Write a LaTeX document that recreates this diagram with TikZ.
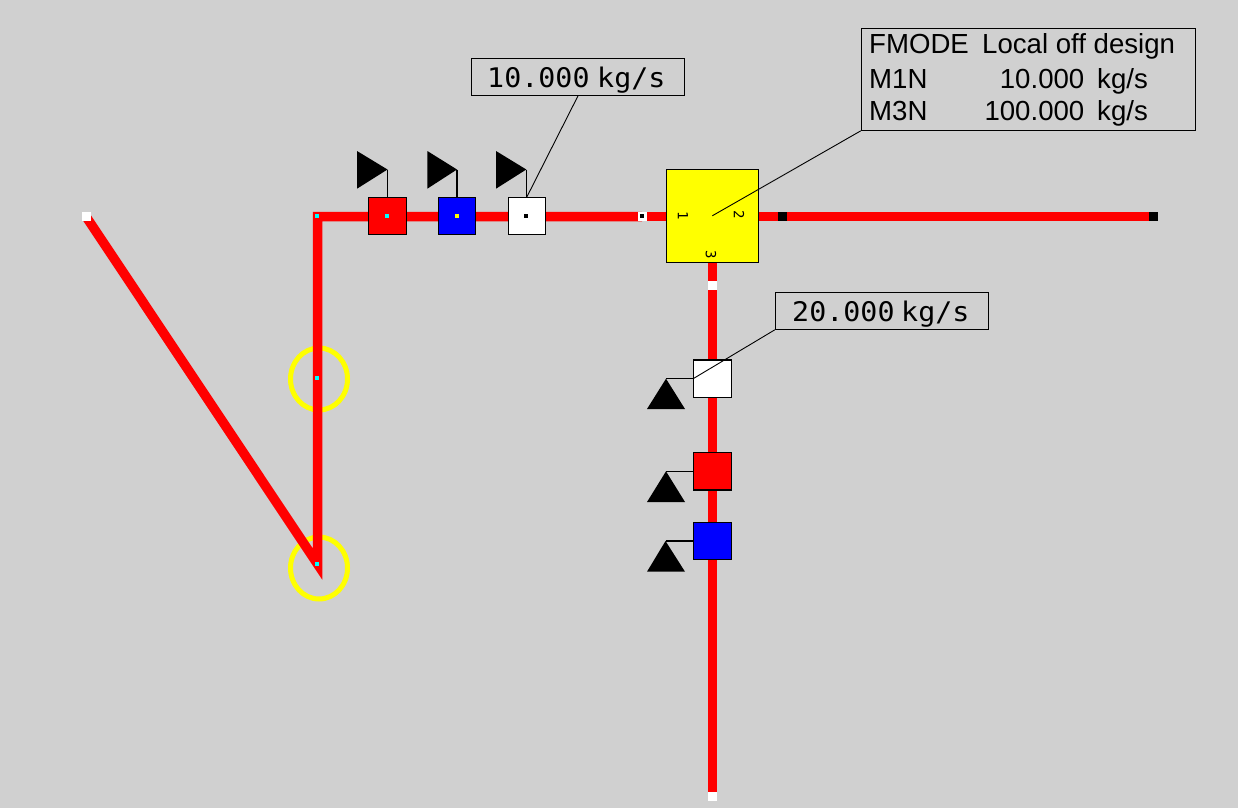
\documentclass[tikz,border=0pt]{standalone}
\usepackage{fontspec}
\usetikzlibrary{shapes.geometric}
\setmainfont{Liberation Sans}
\newfontfamily\valfont{DejaVu Sans Mono}
\definecolor{panelgray}{HTML}{D0D0D0}
\definecolor{pipered}{RGB}{255,0,0}
\definecolor{unityellow}{RGB}{255,255,0}
\definecolor{valveblue}{RGB}{0,0,255}
\definecolor{dotcyan}{RGB}{0,255,255}
\tikzset{
  pipe/.style={draw=pipered,line width=9.5pt,miter limit=10},
  valve/.style={draw=black,line width=1.3pt,inner sep=0pt,minimum size=37.4pt},
  endcap/.style={fill=#1,inner sep=0pt,minimum size=9pt},
  dot/.style={fill=#1,inner sep=0pt,minimum size=4pt},
  ring/.style={draw=unityellow,line width=5pt,ellipse,inner sep=0pt,minimum width=57pt,minimum height=62pt},
  stem/.style={draw=black,line width=1.2pt},
  leader/.style={draw=black,line width=0.9pt},
  callout/.style={draw=black,line width=1.1pt,inner sep=0pt},
  valtext/.style={font=\valfont\fontsize{27}{28}\selectfont,inner sep=0pt,xscale=1.05,anchor=base west},
  tabletext/.style={font=\fontsize{27.6}{28}\selectfont,inner sep=0pt,anchor=base west},
  portno/.style={font=\valfont\fontsize{14}{14}\selectfont,inner sep=0pt,rotate=-90}
}
\begin{document}
\begin{tikzpicture}[x=1pt,y=-1pt]
\fill[panelgray] (0,0) rectangle (1238,808);
\useasboundingbox (0,0) rectangle (1238,808);
% pipe points
\coordinate (inlet) at (86,216.5);
\coordinate (elbowlow) at (317.5,564);
\coordinate (elbowhigh) at (317.5,216.5);
\coordinate (teein) at (642,216.5);
\coordinate (teeout) at (1153,216.5);
\coordinate (teetop) at (712.5,216.5);
\coordinate (teedown) at (712.5,796);
% rings on the riser
\node[ring] (ringup) at (319,379) {};
\node[ring] (ringlow) at (319,568) {};
\draw[pipe] (inlet)--(elbowlow)--(elbowhigh)--(teein);
\draw[pipe] (teein)--(teeout);
\draw[pipe] (teetop)--(teedown);
% unit in the middle
\node[draw=black,line width=1.3pt,fill=unityellow,inner sep=0pt,minimum width=92pt,minimum height=93pt] (tee) at (712.3,215.8) {};
\node[portno] (portone) at (683,215.5) {1};
\node[portno] (porttwo) at (739,215) {2};
\node[portno] (portthree) at (711,255) {3};
% valves along the top
\node[valve,fill=pipered] (valveA) at (387.5,216) {};
\node[valve,fill=valveblue] (valveB) at (457,216) {};
\node[valve,fill=white] (valveC) at (527,216) {};
\coordinate (tipA) at (387.5,169.5);
\coordinate (tipB) at (457,169.5);
\coordinate (tipC) at (526.3,169.5);
\fill (357,151)--(tipA)--(357,188.7)--cycle;
\fill (427.3,151)--(tipB)--(427.3,188.7)--cycle;
\fill (496,151)--(tipC)--(496,188.7)--cycle;
\draw[stem] (tipA)--(valveA.north);
\draw[stem] (tipB)--(valveB.north);
\draw[stem] (tipC)--(tipC|-valveC.north);
% valves down the leg
\node[valve,fill=white] (valveD) at (712.5,378.7) {};
\node[valve,fill=pipered] (valveE) at (712.5,471.3) {};
\node[valve,fill=valveblue] (valveF) at (712.5,541) {};
\coordinate (tipD) at (666,378.7);
\coordinate (tipE) at (666,471.3);
\coordinate (tipF) at (665.5,541);
\fill (647,409)--(tipD)--(685,409)--cycle;
\fill (647,502)--(tipE)--(685,502)--cycle;
\fill (647,571.7)--(tipF)--(685,571.7)--cycle;
\draw[stem] (tipD)--(valveD.west);
\draw[stem] (tipE)--(valveE.west);
\draw[stem] (tipF)--(valveF.west);
% end marks and dots
\node[endcap=white] (capinlet) at (inlet) {};
\node[endcap=white] (capin) at (teein) {};
\node[endcap=black] (capright) at (782.5,216.5) {};
\node[endcap=black] (capout) at (teeout) {};
\node[endcap=white] (capleg) at (712.5,285.5) {};
\node[endcap=white] (capdown) at (teedown) {};
\node[dot=dotcyan] (dotelbow) at (317,216) {};
\node[dot=dotcyan] (dotup) at (317,378) {};
\node[dot=dotcyan] (dotlow) at (317,564) {};
\node[dot=dotcyan] (dotA) at (387,216) {};
\node[dot=unityellow] (dotB) at (457,216) {};
\node[dot=black] (dotC) at (526,216) {};
\node[dot=black] (dotin) at (642,216) {};
% callouts
\node[callout,minimum width=213.4pt,minimum height=37pt] (flowA) at (578,76.8) {};
\node[valtext] (flowAval) at (487,87) {10.000};
\node[valtext] (flowAunit) at (597,87) {kg/s};
\node[callout,minimum width=213.4pt,minimum height=37pt] (flowB) at (882,310.8) {};
\node[valtext] (flowBval) at (792,321) {20.000};
\node[valtext] (flowBunit) at (901,321) {kg/s};
\node[callout,minimum width=334.4pt,minimum height=102pt] (modebox) at (1028.5,79.3) {};
\draw[leader] (flowA.south)--(valveC.north);
\draw[leader] (flowB.south west)--(valveD.west);
\draw[leader] (modebox.south west)--(tee.center);
\node[tabletext] (modekey) at (869,53) {FMODE};
\node[tabletext] (modeval) at (982,53) {Local off design};
\node[tabletext] (rowAkey) at (869,88) {M1N};
\node[tabletext,anchor=base east] (rowAval) at (1084.5,88) {10.000};
\node[tabletext] (rowAunit) at (1097,88) {kg/s};
\node[tabletext] (rowBkey) at (869,120) {M3N};
\node[tabletext,anchor=base east] (rowBval) at (1084.5,120) {100.000};
\node[tabletext] (rowBunit) at (1097,120) {kg/s};
\end{tikzpicture}
\end{document}
